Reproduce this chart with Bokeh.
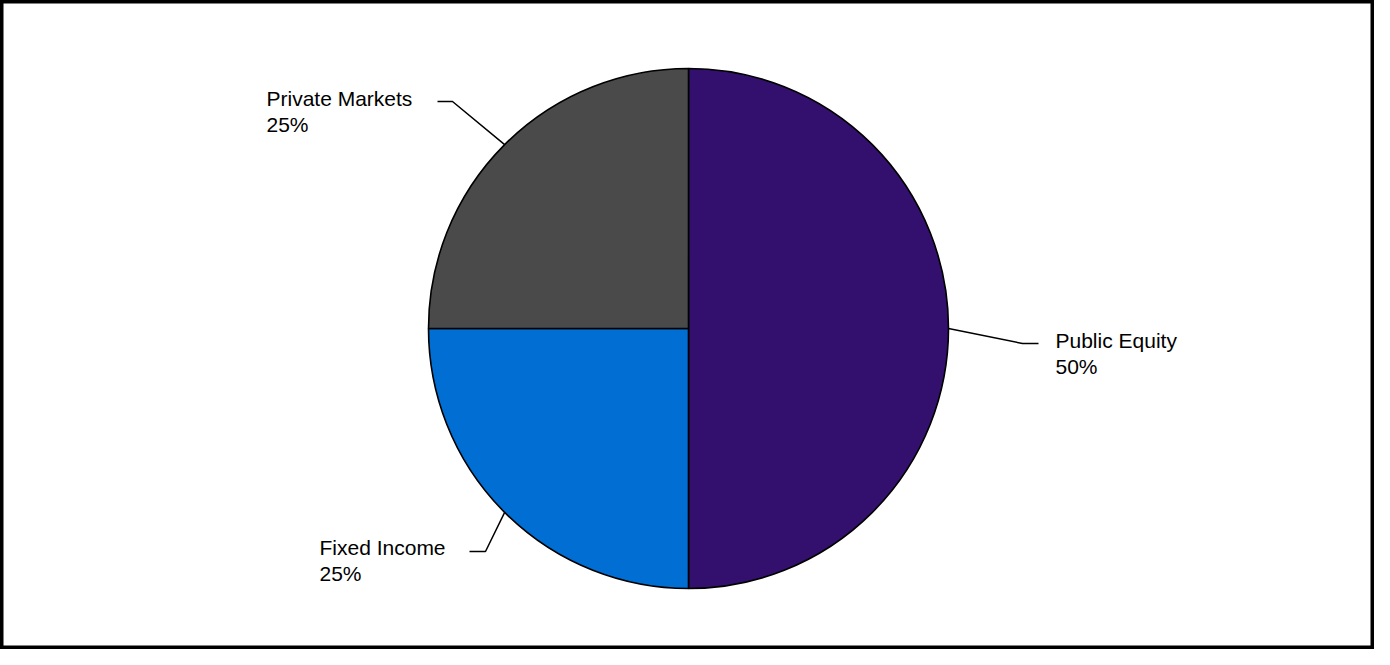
import math
from bokeh.plotting import figure
from bokeh.models import Range1d, ColumnDataSource
from bokeh.core.properties import value
from bokeh.embed import file_html
from bokeh.resources import INLINE

# ---- data ----
categories = ["Public Equity", "Fixed Income", "Private Markets"]
shares = [50, 25, 25]
colors = ["#33106E", "#006ED2", "#4A4A4A"]
pct_labels = ["50%", "25%", "25%"]

# ---- layout (page-pixel geometry converted to data units, 1 unit = 1 px) ----
W, H = 1374, 649
CX, CY, R = 688, 321, 260
# elbow and end of each connector, and text anchor (left x, first baseline y)
elbows = [(1022, 306), (485, 98), (452, 548)]
ends = [(1038, 306), (469, 98), (437, 548)]
text_pos = [(1055, 309), (319, 102), (266, 551)]
LINE_GAP = 26

total = float(sum(shares))
starts, stops, mids = [], [], []
cum = 0.0
for s in shares:
    a0 = math.pi / 2 - 2 * math.pi * cum / total
    cum += s
    a1 = math.pi / 2 - 2 * math.pi * cum / total
    starts.append(a0)
    stops.append(a1)
    mids.append((a0 + a1) / 2)

src = ColumnDataSource(dict(start=starts, end=stops, color=colors, cat=categories))

p = figure(width=W, height=H, x_range=Range1d(0, W), y_range=Range1d(0, H),
           output_backend="svg", toolbar_location=None, min_border=0,
           background_fill_color="white", border_fill_color="white")
p.axis.visible = False
p.grid.visible = False
p.outline_line_color = "black"
p.outline_line_width = 6

p.wedge(x=CX, y=CY, radius=R, start_angle="start", end_angle="end",
        direction="clock", fill_color="color", line_color="black",
        line_width=1.6, source=src)

for i, cat in enumerate(categories):
    sx = CX + R * math.cos(mids[i])
    sy = CY + R * math.sin(mids[i])
    xs = [sx, elbows[i][0], ends[i][0]]
    ys = [sy, elbows[i][1], ends[i][1]]
    p.line(xs, ys, line_color="black", line_width=1.5)
    tx, ty = text_pos[i]
    p.text(x=[tx], y=[ty], text=[cat], text_font=value("Liberation Sans"),
           text_font_size="21px", text_color="#000000",
           text_align="left", text_baseline="alphabetic")
    p.text(x=[tx], y=[ty - LINE_GAP], text=[pct_labels[i]],
           text_font=value("Liberation Sans"), text_font_size="21px",
           text_color="#000000", text_align="left", text_baseline="alphabetic")

open("out.html", "w").write(file_html(p, INLINE))
